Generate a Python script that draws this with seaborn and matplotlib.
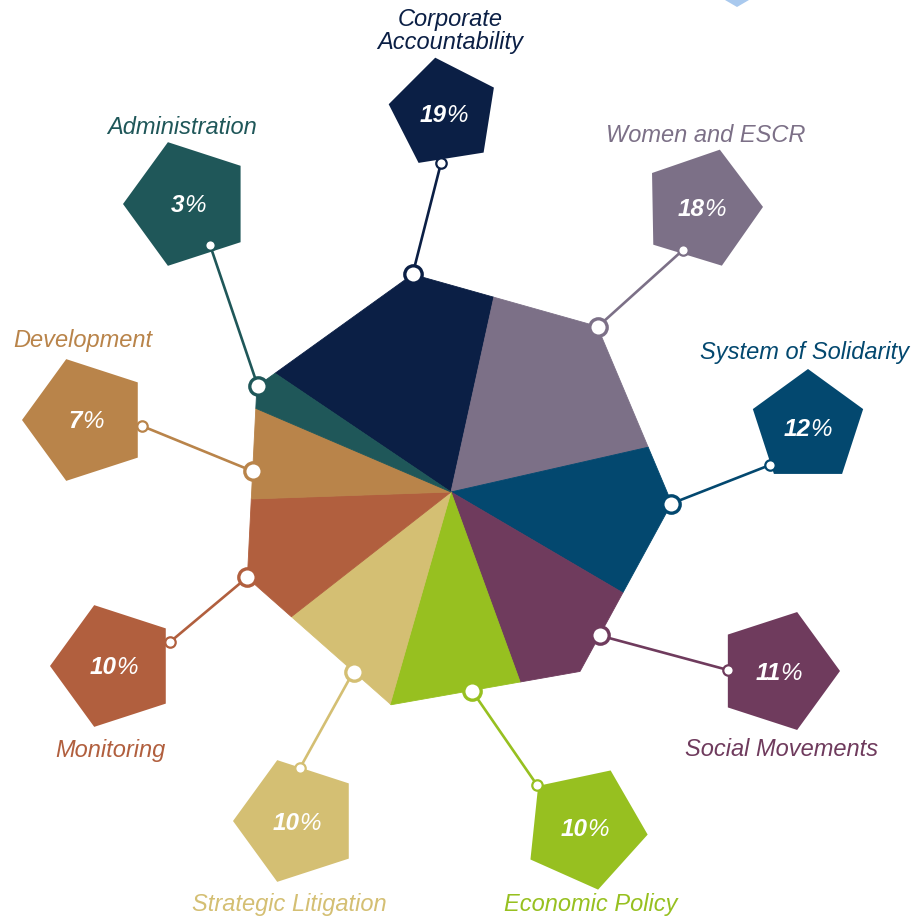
import numpy as np
import pandas as pd
import matplotlib
matplotlib.use("Agg")
import matplotlib.pyplot as plt
from matplotlib.patches import Polygon
import seaborn as sns

# budget split by programme area
areas = ["Corporate\nAccountability", "Women and ESCR", "System of Solidarity",
         "Social Movements", "Economic Policy", "Strategic Litigation",
         "Monitoring", "Development", "Administration"]
shares = [19, 18, 12, 11, 10, 10, 10, 7, 3]
colors = ["#0b1f45", "#7c7087", "#03486f", "#6f3b5d", "#97c020",
          "#d4bf73", "#b15f3e", "#b9844a", "#1f5759"]

sns.set_theme(style="white")
plt.rcParams["font.family"] = ["Liberation Sans", "DejaVu Sans"]
palette = sns.color_palette(colors)

# layout, in pixels (y down)
cx, cy = 451, 492
R = 221          # heptagon outline
hept0 = 100      # angle of first heptagon corner
start = 146      # first wedge edge, going clockwise

anchor_ang = [100, 48.4, -3, -44, -84, -118.5, -157.3, 174, 151.2]
pent_xy = [(444, 113), (702, 208), (808, 427), (778, 671), (585, 828),
           (297, 821), (114, 666), (86, 420), (188, 204)]
pent_r = [56, 61, 58, 62, 63, 64, 64, 64, 65]
pent_rot = [99, 1, 90, 0, 66, 180, 180, 180, 180]
tip_xy = [(441, 163), (683, 250), (770, 465), (728, 670), (537, 785),
          (300, 768), (170, 642), (142, 426), (210, 245)]
label_pos = [(450, 31), (706, 135), (805, 353), (782, 750), (591, 905),
             (289, 905), (110, 750), (83, 341), (182, 128)]

step = 360 / 7
pct_size = 17.5
em = pct_size * 100 / 72   # px per em


def hept_point(theta):
    k = np.floor(((theta - hept0) % 360) / step)
    mid = hept0 + (k + 0.5) * step
    r = R * np.cos(np.radians(step / 2)) / np.cos(np.radians(theta - mid))
    t = np.radians(theta)
    return cx + r * np.cos(t), cy - r * np.sin(t)


corners = [hept0 - step * j for j in range(7)]

fig = plt.figure(figsize=(9.17, 9.23), dpi=100)
ax = fig.add_axes([0, 0, 1, 1])
ax.set_xlim(0, 917)
ax.set_ylim(923, 0)
ax.axis("off")

# wedges clipped to the heptagon
a0 = start
for share, col in zip(shares, palette):
    span = share * 3.6
    a1 = a0 - span
    inner = sorted([c for c in corners if 0 < (a0 - c) % 360 < span],
                   key=lambda c: (a0 - c) % 360)
    pts = [(cx, cy), hept_point(a0)] + [hept_point(c) for c in inner] + [hept_point(a1)]
    ax.add_patch(Polygon(pts, closed=True, facecolor=col, edgecolor=col, lw=0.6, zorder=1))
    a0 = a1

# pentagon tags with leader lines
for i, (name, share, col) in enumerate(zip(areas, shares, palette)):
    px, py = pent_xy[i]
    ang = np.radians(pent_rot[i] + 72 * np.arange(5))
    verts = np.column_stack([px + pent_r[i] * np.cos(ang), py - pent_r[i] * np.sin(ang)])
    ax.add_patch(Polygon(verts, closed=True, facecolor=col, edgecolor="none", zorder=2))

    ax_, ay_ = hept_point(anchor_ang[i])
    tx, ty = tip_xy[i]
    ax.plot([ax_, tx], [ay_, ty], color=col, lw=1.9, zorder=2, solid_capstyle="round")
    ax.plot(ax_, ay_, "o", ms=12.5, mfc="white", mec=col, mew=2.4, zorder=3)
    ax.plot(tx, ty, "o", ms=7.5, mfc="white", mec=col, mew=1.6, zorder=3)

    # bold digits, lighter percent sign
    digits = str(share)
    split = px + (len(digits) * 0.556 - 0.889) / 2 * em
    ax.text(split, py + 2, digits, color="white", fontsize=pct_size, fontweight="bold",
            fontstyle="italic", ha="right", va="center", zorder=4)
    ax.text(split, py + 2, "%", color="white", fontsize=pct_size,
            fontstyle="italic", ha="left", va="center", zorder=4)

    lx, ly = label_pos[i]
    ax.text(lx, ly, name, color=col, fontsize=17, fontstyle="italic", ha="center",
            va="center", linespacing=1.05, zorder=4)

# bit of a decorative shape cut by the top edge
ax.add_patch(Polygon([(725, 0), (749, 0), (737, 7)], closed=True,
                     facecolor="#a9c9ee", edgecolor="none"))

fig.savefig("out.png", dpi=100)
